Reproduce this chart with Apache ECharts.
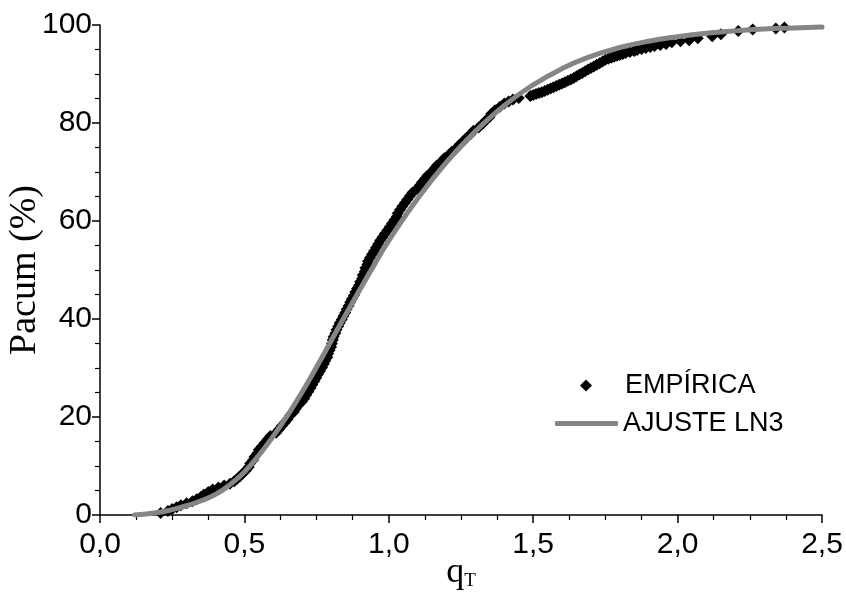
<!DOCTYPE html>
<html>
<head>
<meta charset="utf-8">
<script src="https://cdn.jsdelivr.net/npm/echarts@6/dist/echarts.min.js"></script>
<style>
  html, body { margin: 0; padding: 0; background: #fff; }
  #chart { width: 846px; height: 594px; }
</style>
</head>
<body>
<div id="chart"></div>
<script>
// empirical cumulative frequencies (x = qT, y = Pacum %)
const empX = [
  0.21, 0.235, 0.25, 0.265, 0.28, 0.30, 0.32, 0.335, 0.35, 0.36,
  0.375, 0.39, 0.41, 0.43, 0.45, 0.465, 0.475, 0.485, 0.495, 0.505,
  0.515, 0.52, 0.53, 0.535, 0.545, 0.55, 0.56, 0.57, 0.58, 0.59,
  0.61, 0.62, 0.63, 0.64, 0.65, 0.658, 0.671, 0.678, 0.686, 0.699,
  0.707, 0.714, 0.722, 0.729, 0.735, 0.742, 0.749, 0.755, 0.762, 0.769,
  0.775, 0.78, 0.787, 0.79, 0.795, 0.80, 0.803, 0.806, 0.809, 0.815,
  0.819, 0.825, 0.83, 0.837, 0.843, 0.849, 0.854, 0.861, 0.866, 0.872,
  0.879, 0.884, 0.89, 0.897, 0.901, 0.908, 0.91, 0.917, 0.919, 0.926,
  0.928, 0.935, 0.942, 0.949, 0.956, 0.963, 0.97, 0.978, 0.986, 0.995,
  1.003, 1.011, 1.019, 1.028, 1.031, 1.039, 1.047, 1.056, 1.064, 1.073,
  1.082, 1.097, 1.106, 1.115, 1.125, 1.134, 1.148, 1.158, 1.167, 1.182,
  1.192, 1.208, 1.219, 1.235, 1.245, 1.258, 1.269, 1.283, 1.293, 1.311,
  1.324, 1.336, 1.349, 1.355, 1.368, 1.385, 1.40, 1.415, 1.43, 1.45,
  1.49, 1.50, 1.51, 1.52, 1.53, 1.54, 1.55, 1.56, 1.57, 1.58,
  1.59, 1.60, 1.61, 1.62, 1.63, 1.64, 1.65, 1.66, 1.67, 1.68,
  1.69, 1.70, 1.71, 1.72, 1.73, 1.74, 1.75, 1.76, 1.77, 1.78,
  1.79, 1.80, 1.81, 1.82, 1.835, 1.85, 1.86, 1.875, 1.89, 1.905,
  1.92, 1.94, 1.96, 1.98, 2.01, 2.04, 2.07, 2.12, 2.15, 2.21,
  2.26, 2.34, 2.37
];
const empY = [
  0.4, 0.8, 1.2, 1.6, 2.0, 2.4, 2.8, 3.2, 3.7, 4.2,
  4.7, 5.2, 5.6, 6.0, 6.4, 6.9, 7.4, 7.9, 8.5, 9.1,
  9.8, 10.5, 11.2, 11.9, 12.6, 13.3, 14.0, 14.7, 15.4, 16.1,
  16.8, 17.5, 18.2, 18.9, 19.6, 20.3, 21.0, 21.7, 22.4, 23.1,
  23.8, 24.5, 25.2, 25.9, 26.6, 27.3, 28.0, 28.7, 29.4, 30.1,
  30.8, 31.5, 32.2, 32.9, 33.6, 34.3, 35.0, 35.7, 36.4, 37.1,
  37.8, 38.5, 39.2, 39.9, 40.6, 41.3, 42.0, 42.7, 43.4, 44.1,
  44.8, 45.5, 46.2, 46.9, 47.6, 48.3, 49.0, 49.7, 50.4, 51.1,
  51.8, 52.5, 53.2, 53.9, 54.6, 55.3, 56.0, 56.7, 57.4, 58.1,
  58.8, 59.5, 60.2, 60.9, 61.6, 62.3, 63.0, 63.7, 64.4, 65.1,
  65.8, 66.5, 67.2, 67.9, 68.6, 69.3, 70.0, 70.7, 71.4, 72.1,
  72.8, 73.5, 74.2, 74.9, 75.6, 76.3, 77.0, 77.7, 78.4, 79.1,
  79.8, 80.5, 81.2, 81.9, 82.6, 83.3, 84.0, 84.4, 84.8, 85.1,
  85.5, 85.7, 85.9, 86.1, 86.3, 86.55, 86.8, 87.05, 87.3, 87.55,
  87.8, 88.05, 88.3, 88.6, 88.9, 89.2, 89.55, 89.9, 90.2, 90.55,
  90.9, 91.2, 91.55, 91.9, 92.2, 92.55, 92.9, 93.1, 93.3, 93.5,
  93.7, 93.9, 94.1, 94.3, 94.5, 94.7, 94.9, 95.1, 95.3, 95.5,
  95.7, 95.9, 96.1, 96.5, 96.7, 96.9, 97.3, 97.7, 98.1, 98.8,
  99.1, 99.3, 99.5
];

// fitted 3-parameter lognormal curve
const fitX = [0.12, 0.2, 0.25, 0.3, 0.35, 0.4, 0.45, 0.5, 0.55, 0.6,
  0.65, 0.7, 0.75, 0.8, 0.85, 0.9, 0.95, 1.0, 1.1, 1.2,
  1.3, 1.4, 1.5, 1.6, 1.7, 1.8, 1.9, 2.0, 2.1, 2.2,
  2.3, 2.4, 2.5];
const fitY = [0, 0.5, 1.1, 1.9, 2.9, 4.2, 6.2, 8.8, 12.2, 16.1,
  20.4, 25.1, 30.2, 35.5, 40.8, 46.0, 51.1, 56.0, 64.6, 72.0,
  78.3, 83.6, 87.8, 91.1, 93.6, 95.4, 96.7, 97.6, 98.3, 98.8,
  99.2, 99.4, 99.6];

const seriesNames = ["EMPÍRICA", "AJUSTE LN3"];
const fitColor = "#858585";

const chart = echarts.init(document.getElementById("chart"));

const axisCommon = {
  axisLine: { lineStyle: { color: "#000", width: 1.5 } },
  axisTick: { inside: false, length: 8, lineStyle: { color: "#000", width: 1.5 } },
  minorTick: { show: true, splitNumber: 4, length: 5, lineStyle: { color: "#000", width: 1.2 } },
  splitLine: { show: false },
  axisLabel: { color: "#000", fontFamily: "Liberation Sans", fontSize: 30 },
  nameMoveOverlap: false,
};

const legendText = { color: "#000", fontFamily: "Liberation Sans", fontSize: 27, lineHeight: 26 };

const option = {
  backgroundColor: "#fff",
  animation: false,
  grid: { left: 100, right: 24, top: 25, bottom: 79, outerBoundsMode: "none" },
  legend: [
    {
      left: 575,
      top: 367,
      itemWidth: 12,
      itemHeight: 12,
      data: [{ name: seriesNames[0], icon: "diamond", itemStyle: { color: "#000" } }],
      textStyle: Object.assign({}, legendText, { padding: [0, 0, 0, 28] }),
    },
    {
      left: 550,
      top: 405,
      itemWidth: 63,
      itemHeight: 5,
      data: [{ name: seriesNames[1], icon: "roundRect", itemStyle: { color: fitColor } }],
      textStyle: legendText,
    },
  ],
  xAxis: Object.assign({}, axisCommon, {
    type: "value",
    min: 0,
    max: 2.5,
    interval: 0.5,
    name: "{q|q}{t|T}",
    nameLocation: "middle",
    nameGap: 40,
    nameTextStyle: {
      rich: {
        q: { fontFamily: "Liberation Serif", fontSize: 36, color: "#000" },
        t: { fontFamily: "Liberation Serif", fontSize: 19, color: "#000", padding: [16, 0, 0, 0] },
      },
    },
    axisLabel: Object.assign({}, axisCommon.axisLabel, {
      margin: 15,
      formatter: (v) => v.toFixed(1).replace(".", ","),
    }),
  }),
  yAxis: Object.assign({}, axisCommon, {
    type: "value",
    min: 0,
    max: 100,
    interval: 20,
    name: "Pacum (%)",
    nameLocation: "middle",
    nameGap: 56,
    nameTextStyle: { fontFamily: "Liberation Serif", fontSize: 38, color: "#000" },
    axisLabel: Object.assign({}, axisCommon.axisLabel, { margin: 8 }),
  }),
  series: [
    {
      name: seriesNames[0],
      type: "scatter",
      symbol: "diamond",
      symbolSize: 12,
      itemStyle: { color: "#000", opacity: 1 },
      data: empX.map((x, i) => [x, empY[i]]),
      z: 2,
    },
    {
      name: seriesNames[1],
      type: "line",
      smooth: true,
      symbol: "none",
      lineStyle: { color: fitColor, width: 5, cap: "round" },
      itemStyle: { color: fitColor },
      data: fitX.map((x, i) => [x, fitY[i]]),
      z: 3,
    },
  ],
};

chart.setOption(option);
</script>
</body>
</html>
